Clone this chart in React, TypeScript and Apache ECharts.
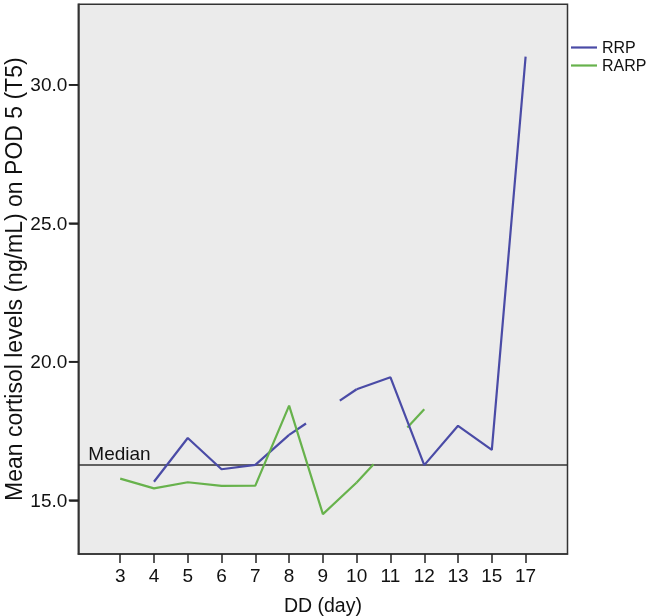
import React, { useEffect, useRef } from "react";
import * as echarts from "echarts";

const days = ["3", "4", "5", "6", "7", "8", "9", "10", "11", "12", "13", "15", "17"];
const rrp: (number | null)[] = [null, 15.67, 17.25, 16.12, 16.28, 17.36, null, 19.01, 19.44, 16.27, 17.69, 16.82, 31.02];
const rarp: (number | null)[] = [15.78, 15.43, 15.65, 15.52, 15.53, 18.42, 14.5, 15.64, null, 18.29, null, null, null];
const medianValue = 16.27;
const yTicks = [15, 20, 25, 30];

// x positions: category slot k is placed at X0 + k on a value axis
const X0 = 2;
const X_MIN = X0 - 1.24;
const X_MAX = X0 + 13.24;
const RRP_COLOR = "#4a4ba6";
const RARP_COLOR = "#67b24c";
const FONT = "Liberation Sans, Arial, sans-serif";
const LINE_ICON = "path://M0,0 L26,0 L26,2.2 L0,2.2 Z";

function toPoints(vals: (number | null)[]) {
  return vals.map((v, i) => [X0 + i, v]);
}

function bridges(vals: (number | null)[]) {
  const out: number[][] = [];
  for (let k = 1; k < vals.length - 1; k++) {
    if (vals[k] == null && vals[k - 1] != null && vals[k + 1] != null) {
      out.push([X0 + k - 1, vals[k - 1] as number, X0 + k + 1, vals[k + 1] as number]);
    }
  }
  return out;
}

function bridgeSeries(vals: (number | null)[], color: string) {
  return {
    type: "custom",
    silent: true,
    data: bridges(vals),
    encode: { x: [0, 2], y: [1, 3] },
    renderItem: (params: any, api: any) => {
      const p0 = api.coord([api.value(0), api.value(1)]);
      const p1 = api.coord([api.value(2), api.value(3)]);
      const dx = p1[0] - p0[0];
      const dy = p1[1] - p0[1];
      const style = { stroke: color, lineWidth: 2.2, fill: null };
      return {
        type: "group",
        children: [
          { type: "line", shape: { x1: p0[0], y1: p0[1], x2: p0[0] + dx / 4, y2: p0[1] + dy / 4 }, style },
          { type: "line", shape: { x1: p0[0] + (3 * dx) / 4, y1: p0[1] + (3 * dy) / 4, x2: p1[0], y2: p1[1] }, style },
        ],
      };
    },
  };
}

// y-axis tick marks, placed through the y scale at the left edge of the plot
const yTickSeries = {
  type: "custom",
  silent: true,
  clip: false,
  z: 10,
  data: yTicks.map((v) => [X_MIN, v]),
  encode: { x: 0, y: 1 },
  renderItem: (params: any, api: any) => {
    const p = api.coord([api.value(0), api.value(1)]);
    return {
      type: "rect",
      shape: { x: p[0] - 9.5, y: p[1] - 0.9, width: 9.5, height: 1.8 },
      style: { fill: "#222" },
    };
  },
};

export default function App() {
  const ref = useRef<HTMLDivElement>(null);
  useEffect(() => {
    if (!ref.current) return;
    const chart = echarts.init(ref.current, undefined, { renderer: "svg" });
    const xPos = days.map((_, i) => X0 + i);
    chart.setOption({
      animation: false,
      textStyle: { fontFamily: FONT },
      grid: {
        left: 78.3,
        right: 78.5,
        top: 4.3,
        bottom: 62,
        containLabel: false,
        outerBoundsMode: "none",
        show: true,
        backgroundColor: "#ebebeb",
        borderColor: "#333333",
        borderWidth: 1.5,
      },
      legend: {
        orient: "vertical",
        left: 571,
        top: 39.5,
        padding: 0,
        itemWidth: 26,
        itemHeight: 14,
        itemGap: 2,
        icon: LINE_ICON,
        textStyle: { fontSize: 16, color: "#111", fontFamily: FONT },
        data: [
          { name: "RRP", itemStyle: { color: RRP_COLOR } },
          { name: "RARP", itemStyle: { color: RARP_COLOR } },
        ],
      },
      xAxis: {
        type: "value",
        min: X_MIN,
        max: X_MAX,
        splitLine: { show: false },
        axisLine: { show: true, lineStyle: { color: "#333", width: 1.5 } },
        axisTick: { show: true, length: 9, customValues: xPos, lineStyle: { color: "#222", width: 1.5 } },
        axisLabel: {
          customValues: xPos,
          formatter: (v: number) => days[Math.round(v) - X0] ?? "",
          fontSize: 19,
          color: "#111",
          margin: 12,
        },
        name: "DD (day)",
        nameLocation: "middle",
        nameGap: 41,
        nameMoveOverlap: false,
        nameTextStyle: { fontSize: 19.5, color: "#111" },
      },
      yAxis: {
        type: "value",
        min: 13.06,
        max: 32.91,
        splitLine: { show: false },
        axisLine: { show: true, lineStyle: { color: "#333", width: 1.5 } },
        axisTick: { show: true, length: 9, customValues: yTicks, lineStyle: { color: "#222", width: 1.5 } },
        axisLabel: {
          customValues: yTicks,
          formatter: (v: number) => v.toFixed(1),
          fontSize: 19,
          color: "#111",
          margin: 11,
        },
        name: "Mean cortisol levels (ng/mL) on POD 5 (T5)",
        nameLocation: "middle",
        nameGap: 53,
        nameMoveOverlap: false,
        nameTextStyle: { fontSize: 23, color: "#111" },
      },
      series: [
        {
          name: "RRP",
          type: "line",
          data: toPoints(rrp),
          symbol: "none",
          connectNulls: false,
          lineStyle: { color: RRP_COLOR, width: 2.2 },
          itemStyle: { color: RRP_COLOR },
          z: 3,
          markLine: {
            silent: true,
            symbol: "none",
            lineStyle: { color: "#333", width: 1.5, type: "solid" },
            label: {
              show: true,
              position: "insideStartTop",
              formatter: "Median",
              fontSize: 19,
              color: "#111",
              distance: [10, 2],
            },
            data: [{ yAxis: medianValue }],
            z: 2,
          },
        },
        {
          name: "RARP",
          type: "line",
          data: toPoints(rarp),
          symbol: "none",
          connectNulls: false,
          lineStyle: { color: RARP_COLOR, width: 2.2 },
          itemStyle: { color: RARP_COLOR },
          z: 3,
        },
        bridgeSeries(rrp, RRP_COLOR),
        bridgeSeries(rarp, RARP_COLOR),
        yTickSeries,
      ],
    });
    return () => chart.dispose();
  }, []);
  return <div ref={ref} style={{ position: "fixed", left: 0, top: 0, width: 646, height: 616 }} />;
}
